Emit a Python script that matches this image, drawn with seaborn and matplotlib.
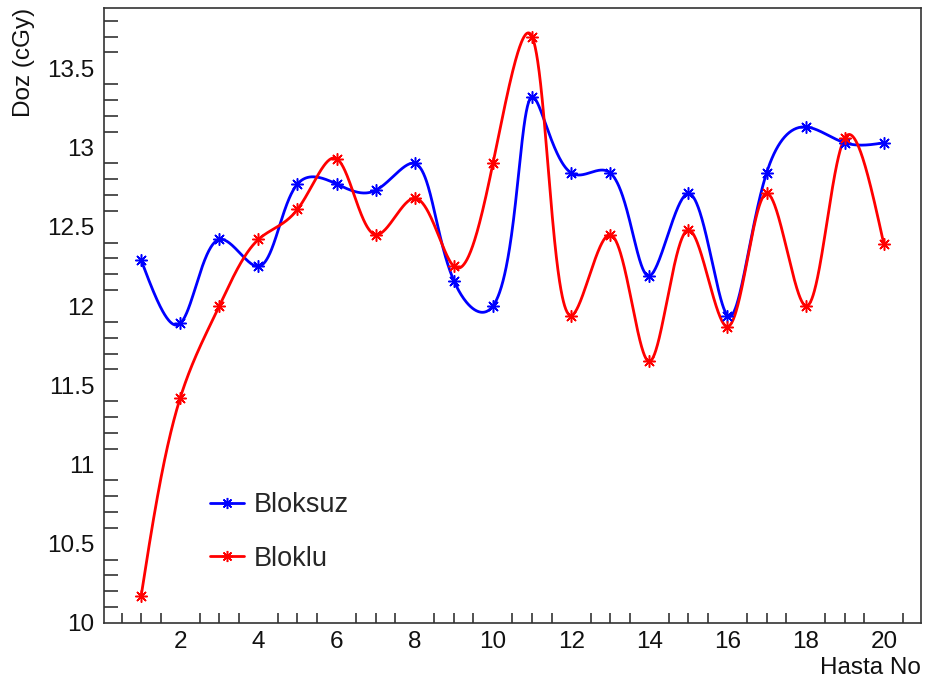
import numpy as np
import pandas as pd
import matplotlib
matplotlib.use("Agg")
import matplotlib.pyplot as plt
import seaborn as sns
from matplotlib.ticker import MultipleLocator

hasta_no = list(range(1, 21))
bloksuz = [12.29, 11.89, 12.42, 12.25, 12.77, 12.77, 12.73, 12.90, 12.16, 12.00,
           13.32, 12.84, 12.84, 12.19, 12.71, 11.94, 12.84, 13.13, 13.03, 13.03]
bloklu = [10.17, 11.42, 12.00, 12.42, 12.61, 12.93, 12.45, 12.68, 12.25, 12.90,
          13.70, 11.94, 12.45, 11.65, 12.48, 11.87, 12.71, 12.00, 13.06, 12.39]
series_names = ["Bloksuz", "Bloklu"]
colors = ["#0000ff", "#ff0000"]

XLIM = (0.05, 20.95)
YLIM = (10, 13.88)


def _nat_spline_1d(t, y, tt):
    m = len(t)
    h = np.diff(t)
    A = np.zeros((m, m))
    b = np.zeros(m)
    A[0, 0] = A[-1, -1] = 1
    for i in range(1, m - 1):
        A[i, i - 1] = h[i - 1]
        A[i, i] = 2 * (h[i - 1] + h[i])
        A[i, i + 1] = h[i]
        b[i] = 3 * ((y[i + 1] - y[i]) / h[i] - (y[i] - y[i - 1]) / h[i - 1])
    c = np.linalg.solve(A, b)
    idx = np.clip(np.searchsorted(t, tt, side="right") - 1, 0, m - 2)
    d = tt - t[idx]
    bi = (y[idx + 1] - y[idx]) / h[idx] - h[idx] * (2 * c[idx] + c[idx + 1]) / 3
    di = (c[idx + 1] - c[idx]) / (3 * h[idx])
    return y[idx] + bi * d + c[idx] * d ** 2 + di * d ** 3


def smooth_curve(x, y, sx=39.0, sy=158.0, alpha=0.5, n=1500):
    """Parametric spline in screen space (rendering of ROOT's 'C' option)."""
    x = np.asarray(x, float)
    y = np.asarray(y, float)
    px, py = x * sx, y * sy
    seg = np.hypot(np.diff(px), np.diff(py)) ** alpha
    t = np.concatenate([[0], np.cumsum(seg)])
    tt = np.linspace(0, t[-1], n)
    return _nat_spline_1d(t, px, tt) / sx, _nat_spline_1d(t, py, tt) / sy


sns.set_theme(style="white")
plt.rcParams["font.family"] = ["Liberation Sans", "DejaVu Sans"]

fig = plt.figure(figsize=(9.26, 6.84), dpi=100)
ax = fig.add_axes([0.1123, 0.0892, 0.8823, 0.899])

marker = (8, 2, 0)
for name, vals, col in zip(series_names, [bloksuz, bloklu], colors):
    cx, cy = smooth_curve(hasta_no, vals)
    curve = pd.DataFrame({"x": cx, "y": cy})
    sns.lineplot(data=curve, x="x", y="y", ax=ax, color=col, lw=2.0,
                 sort=False, estimator=None)
    pts = pd.DataFrame({"x": hasta_no, "y": vals})
    sns.scatterplot(data=pts, x="x", y="y", ax=ax, color=col, marker=marker,
                    s=70, linewidth=1.1, edgecolor=col, zorder=3)
    ax.plot([], [], color=col, lw=2.0, marker=marker, ms=8, mew=1.1, label=name)

ax.set_xlim(*XLIM)
ax.set_ylim(*YLIM)
ax.xaxis.set_major_locator(MultipleLocator(2))
ax.xaxis.set_minor_locator(MultipleLocator(0.5))
ax.yaxis.set_major_locator(MultipleLocator(0.5))
ax.yaxis.set_minor_locator(MultipleLocator(0.1))
ax.yaxis.set_major_formatter(plt.FuncFormatter(lambda v, p: f"{v:g}"))
ax.tick_params(axis="both", which="both", direction="in", top=False, right=False,
               labelsize=17.5, colors="#333333", width=1.2)
ax.tick_params(axis="y", which="major", length=17)
ax.tick_params(axis="y", which="minor", length=10, left=True)
ax.tick_params(axis="x", which="major", length=13, pad=6)
ax.tick_params(axis="x", which="minor", length=7, bottom=True)
ax.tick_params(axis="x", labelcolor="#111111")
ax.tick_params(axis="y", labelcolor="#111111", pad=7)

for sp in ax.spines.values():
    sp.set_visible(True)
    sp.set_color("#333333")
    sp.set_linewidth(1.2)

ax.set_xlabel("Hasta No", fontsize=17.5, loc="right", color="#111111")
ax.set_ylabel("Doz (cGy)", fontsize=17.5, loc="top", color="#111111")
ax.xaxis.set_label_coords(1.0, -0.055)
ax.yaxis.set_label_coords(-0.085, 1.0)

leg = ax.legend(loc="lower left", bbox_to_anchor=(0.10, 0.044), frameon=False,
                fontsize=19.5, handlelength=1.25, handletextpad=0.35,
                labelspacing=1.0)

fig.savefig("out.png", dpi=100, facecolor="white")
